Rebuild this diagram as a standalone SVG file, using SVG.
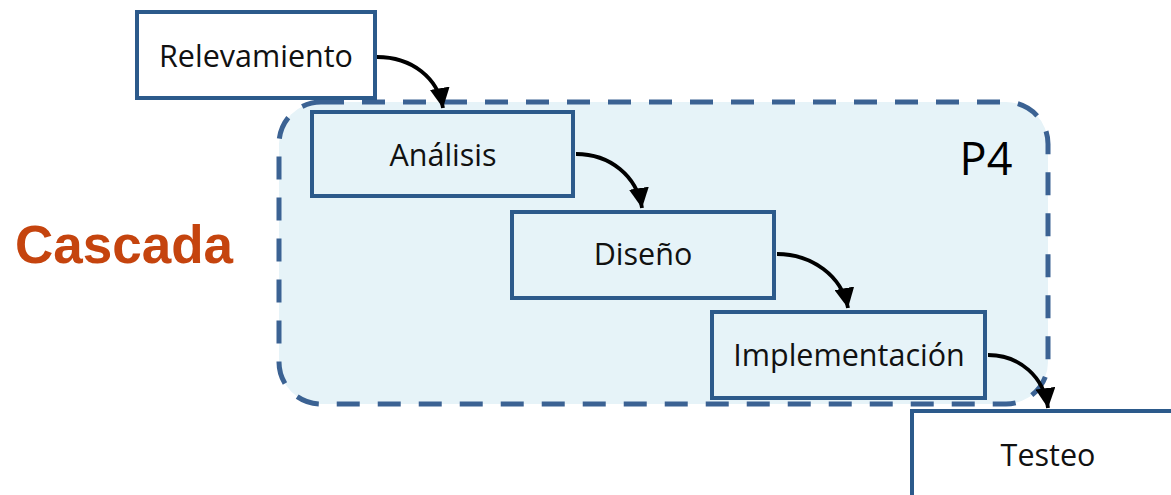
<svg xmlns="http://www.w3.org/2000/svg" width="1171" height="495" viewBox="0 0 1171 495">
  <style>
    .box { stroke: #2c5a8b; stroke-width: 4; }
    .inner { fill: #e6f3f8; }
    .outer { fill: #ffffff; }
    .lbl { font-family: "Open Sans", "Noto Sans", sans-serif; font-size: 30.5px; fill: #111111; text-anchor: middle; }
    .link { fill: none; stroke: #000000; stroke-width: 3.8; marker-end: url(#head); }
  </style>
  <defs>
    <marker id="head" markerUnits="userSpaceOnUse" markerWidth="22" markerHeight="20" refX="20" refY="10" orient="auto">
      <path d="M0,0 L20,10 L0,20 Z" fill="#000000"/>
    </marker>
  </defs>
  <rect width="1171" height="495" fill="#ffffff"/>

  <!-- P4 phase container -->
  <g id="p4">
    <rect x="279" y="102" width="769" height="302" rx="42" ry="42" fill="#e6f3f8" stroke="#3b6293" stroke-width="5" stroke-dasharray="23 18"/>
    <text x="986" y="175" font-family="Open Sans, Noto Sans, sans-serif" font-size="45" fill="#000000" text-anchor="middle">P4</text>
  </g>

  <g id="cascada">
    <text x="124" y="263" font-family="Liberation Sans, Arial, sans-serif" font-weight="bold" font-size="53" fill="#c5440e" text-anchor="middle">Cascada</text>
  </g>

  <g id="relevamiento">
    <rect class="box outer" x="137" y="12" width="238" height="86"/>
    <text class="lbl" x="256" y="67">Relevamiento</text>
  </g>

  <g id="analisis">
    <rect class="box inner" x="312" y="112" width="261" height="84"/>
    <text class="lbl" x="443" y="166">Análisis</text>
  </g>

  <g id="diseno">
    <rect class="box inner" x="512" y="212" width="262" height="86"/>
    <text class="lbl" x="643" y="265">Diseño</text>
  </g>

  <g id="implementacion">
    <rect class="box inner" x="712" y="312" width="273" height="86"/>
    <text class="lbl" x="849" y="366">Implementación</text>
  </g>

  <g id="testeo">
    <rect class="box outer" x="912" y="411" width="270" height="100"/>
    <text class="lbl" x="1048" y="466">Testeo</text>
  </g>

  <!-- flow between phases -->
  <g id="connectors">
    <path class="link" d="M377,57 C412,57 438,78 443,108"/>
    <path class="link" d="M576,154 C610,154 637,176 642,208"/>
    <path class="link" d="M777,254 C812,254 842,276 848,308"/>
    <path class="link" d="M988,355 C1020,355 1044,377 1048,408"/>
  </g>
</svg>
